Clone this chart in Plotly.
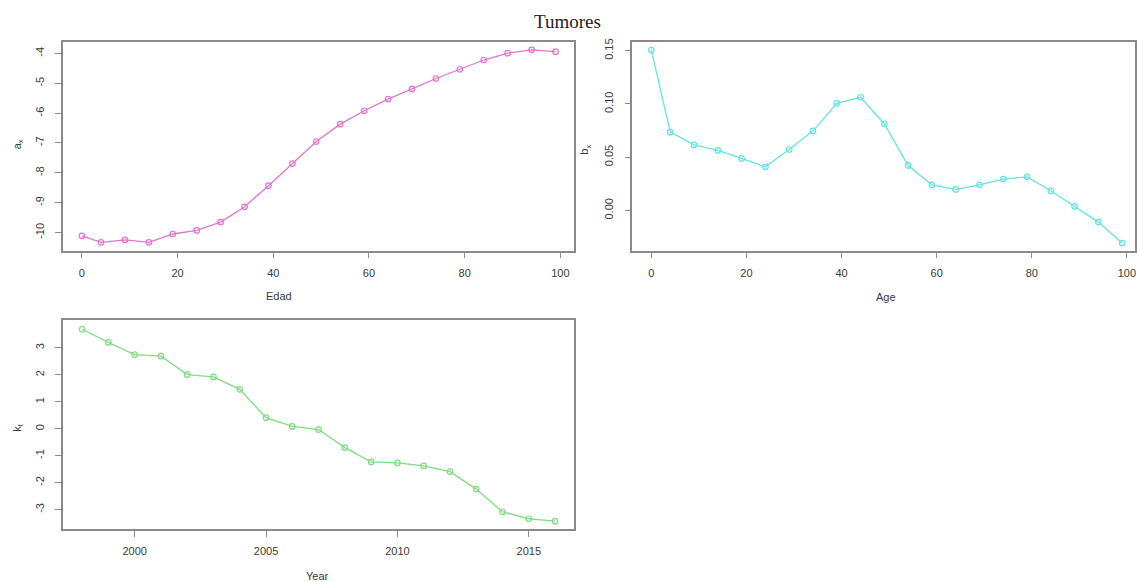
import plotly.graph_objects as go

# Lee-Carter parameter estimates: Tumores
edad = [0, 4, 9, 14, 19, 24, 29, 34, 39, 44, 49, 54, 59, 64, 69, 74, 79, 84, 89, 94, 99]
a_x = [-10.11, -10.33, -10.25, -10.33, -10.05, -9.93, -9.65, -9.14, -8.43, -7.69,
       -6.95, -6.37, -5.92, -5.53, -5.19, -4.84, -4.53, -4.22, -3.99, -3.88, -3.94]
b_x = [0.1506, 0.0735, 0.0616, 0.0563, 0.0488, 0.0409, 0.0572, 0.0747, 0.1006, 0.1063,
       0.0813, 0.0422, 0.0240, 0.0197, 0.0240, 0.0294, 0.0315, 0.0184, 0.0037, -0.0110, -0.0307]
years = list(range(1998, 2017))
k_t = [3.69, 3.20, 2.75, 2.69, 2.01, 1.92, 1.46, 0.41, 0.085, -0.03,
       -0.70, -1.23, -1.27, -1.38, -1.59, -2.24, -3.08, -3.34, -3.43]

age_ticks = [0, 20, 40, 60, 80, 100]
ax_ticks = [-10, -9, -8, -7, -6, -5, -4]
bx_ticks = [0.0, 0.05, 0.10, 0.15]
bx_tick_text = ["0.00", "0.05", "0.10", "0.15"]
year_ticks = [2000, 2005, 2010, 2015]
kt_ticks = [-3, -2, -1, 0, 1, 2, 3]

W, H = 1137, 582
PINK = "#e274cc"
CYAN = "#66e2e2"
GREEN = "#80dc80"
BOX = "#8a8a8a"
TXT = "#3a3a3a"


def px_x(p):
    return p / W


def px_y(p):
    return 1 - p / H


def plain(vals):
    # ASCII hyphen for negative tick labels
    return [str(v) for v in vals]


fig = go.Figure()

for xs, ys, col, xa, ya in [(edad, a_x, PINK, "x", "y"),
                            (edad, b_x, CYAN, "x2", "y2"),
                            (years, k_t, GREEN, "x3", "y3")]:
    fig.add_trace(go.Scatter(x=xs, y=ys, mode="lines+markers", xaxis=xa, yaxis=ya,
                             line=dict(color=col, width=1.3),
                             marker=dict(symbol="circle-open", size=5.5, color=col,
                                         line=dict(width=1.2))))

tickfont = dict(family="Liberation Sans, Arial, sans-serif", size=11, color=TXT)
common = dict(showline=True, mirror=True, linecolor=BOX, linewidth=1.5,
              ticks="outside", ticklen=6, tickcolor=BOX, tickwidth=1.2,
              showgrid=False, zeroline=False, tickfont=tickfont)

top_dom = [px_y(249), px_y(39)]
bot_dom = [px_y(529), px_y(319)]

fig.update_layout(
    width=W, height=H,
    margin=dict(l=0, r=0, t=0, b=0),
    paper_bgcolor="white", plot_bgcolor="white",
    showlegend=False,
    xaxis=dict(domain=[px_x(63), px_x(575)], range=[-3.96, 102.96],
               tickvals=age_ticks, ticktext=plain(age_ticks),
               ticklabelstandoff=5, anchor="y", **common),
    yaxis=dict(domain=top_dom, range=[-10.61, -3.61], tickvals=ax_ticks,
               ticktext=plain(ax_ticks), tickangle=-90, ticklabelstandoff=7,
               anchor="x", **common),
    xaxis2=dict(domain=[px_x(633), px_x(1136)], range=[-3.96, 101.7],
                tickvals=age_ticks, ticktext=plain(age_ticks),
                ticklabelstandoff=5, anchor="y2", **common),
    yaxis2=dict(domain=top_dom, range=[-0.0379, 0.1584], tickvals=bx_ticks,
                ticktext=bx_tick_text, tickangle=-90, ticklabelstandoff=7,
                anchor="x2", **common),
    xaxis3=dict(domain=[px_x(63), px_x(575)], range=[1997.27, 2016.74],
                tickvals=year_ticks, ticktext=plain(year_ticks),
                ticklabelstandoff=5, anchor="y3", **common),
    yaxis3=dict(domain=bot_dom, range=[-3.73, 4.02], tickvals=kt_ticks,
                ticktext=plain(kt_ticks), tickangle=-90, ticklabelstandoff=7,
                anchor="x3", **common),
)

label_font = dict(family="Liberation Sans, Arial, sans-serif", size=11, color=TXT)
annotations = [
    dict(text="Tumores", x=px_x(568), y=px_y(19),
         font=dict(family="Liberation Serif, Times New Roman, serif", size=19, color="#222222")),
    dict(text="Edad", x=px_x(279), y=px_y(295), font=label_font),
    dict(text="Age", x=px_x(887), y=px_y(296), font=label_font),
    dict(text="Year", x=px_x(318), y=px_y(576), font=label_font),
    dict(text="a<sub>x</sub>", x=px_x(18), y=px_y(142), textangle=-90, font=label_font),
    dict(text="b<sub>x</sub>", x=px_x(586), y=px_y(147), textangle=-90, font=label_font),
    dict(text="k<sub>t</sub>", x=px_x(18), y=px_y(426), textangle=-90, font=label_font),
]
for a in annotations:
    a.update(xref="paper", yref="paper", showarrow=False, xanchor="center", yanchor="middle")
fig.update_layout(annotations=annotations)

fig.write_html("out.html")
